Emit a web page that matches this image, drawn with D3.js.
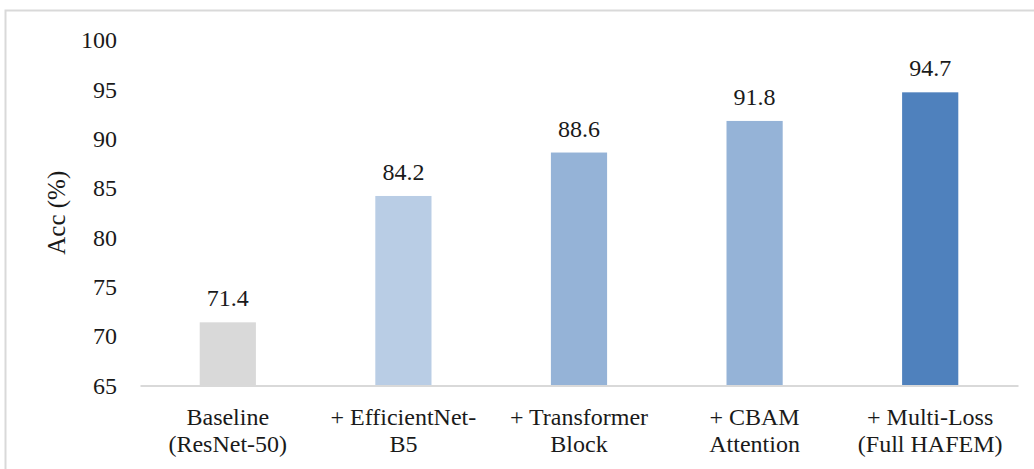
<!DOCTYPE html>
<html>
<head>
<meta charset="utf-8">
<script src="https://cdn.jsdelivr.net/npm/d3@7"></script>
<style>
  html, body { margin: 0; padding: 0; background: #fff; }
  svg { display: block; }
  text { font-family: "Liberation Serif", "Times New Roman", serif; fill: #1a1a1a; }
</style>
</head>
<body>
<svg id="chart" width="1034" height="469"></svg>
<script>
// Ablation results: accuracy per model configuration
const categories = [
  ["Baseline", "(ResNet-50)"],
  ["+ EfficientNet-", "B5"],
  ["+ Transformer", "Block"],
  ["+ CBAM", "Attention"],
  ["+ Multi-Loss", "(Full HAFEM)"]
];
const accuracy = [71.4, 84.2, 88.6, 91.8, 94.7];
const barColors = ["#d9d9d9", "#b9cde5", "#95b3d7", "#95b3d7", "#4f81bd"];
const yTicks = [65, 70, 75, 80, 85, 90, 95, 100];
const yDomain = [65, 100];
const yTitle = "Acc (%)";

const svg = d3.select("#chart");
const W = 1034, H = 469;

// outer frame (only top and left edges fall inside the canvas)
svg.append("rect")
  .attr("x", 5.5).attr("y", 10.5)
  .attr("width", W + 20).attr("height", H + 20)
  .attr("fill", "none").attr("stroke", "#d9d9d9").attr("stroke-width", 2);

const plot = { left: 140, right: 1018, top: 40, bottom: 385.5 };

const x = d3.scaleBand()
  .domain(d3.range(categories.length))
  .range([plot.left, plot.right])
  .paddingInner(0.68)
  .paddingOuter(0.34);

const y = d3.scaleLinear().domain(yDomain).range([plot.bottom, plot.top]);

// y tick labels (no axis line)
const yAxis = d3.axisLeft(y).tickValues(yTicks).tickSize(0).tickPadding(0).tickFormat(d3.format("d"));
const gy = svg.append("g").attr("transform", "translate(117,0)").call(yAxis);
gy.select(".domain").remove();
gy.selectAll("text")
  .style("font-family", '"Liberation Serif", serif')
  .style("font-size", "24px")
  .attr("fill", "#1a1a1a")
  .attr("dy", "0.32em");

// bars
svg.append("g").selectAll("rect")
  .data(accuracy)
  .join("rect")
  .attr("x", (d, i) => x(i))
  .attr("y", d => y(d))
  .attr("width", x.bandwidth())
  .attr("height", d => y(yDomain[0]) - y(d))
  .attr("fill", (d, i) => barColors[i]);

// value labels
svg.append("g").selectAll("text")
  .data(accuracy)
  .join("text")
  .attr("x", (d, i) => x(i) + x.bandwidth() / 2)
  .attr("y", d => y(d) - 16)
  .attr("text-anchor", "middle")
  .style("font-size", "24px")
  .text(d => d.toFixed(1));

// x axis baseline
const xAxis = d3.axisBottom(x).tickSize(0).tickFormat("");
const gx = svg.append("g").attr("transform", `translate(0,${plot.bottom})`).call(xAxis);
gx.select(".domain").attr("stroke", "#d9d9d9").attr("stroke-width", 2);

// two-line category labels
const labels = svg.append("g").selectAll("text")
  .data(categories)
  .join("text")
  .attr("text-anchor", "middle")
  .style("font-size", "24px");
labels.each(function(lines, i) {
  const t = d3.select(this);
  const cx = x(i) + x.bandwidth() / 2;
  lines.forEach((line, k) => {
    t.append("tspan").attr("x", cx).attr("y", 425 + k * 27).text(line);
  });
});

// y axis title
svg.append("text")
  .attr("transform", `translate(65,${(plot.top + plot.bottom) / 2}) rotate(-90)`)
  .attr("text-anchor", "middle")
  .style("font-size", "25px")
  .text(yTitle);
</script>
</body>
</html>
